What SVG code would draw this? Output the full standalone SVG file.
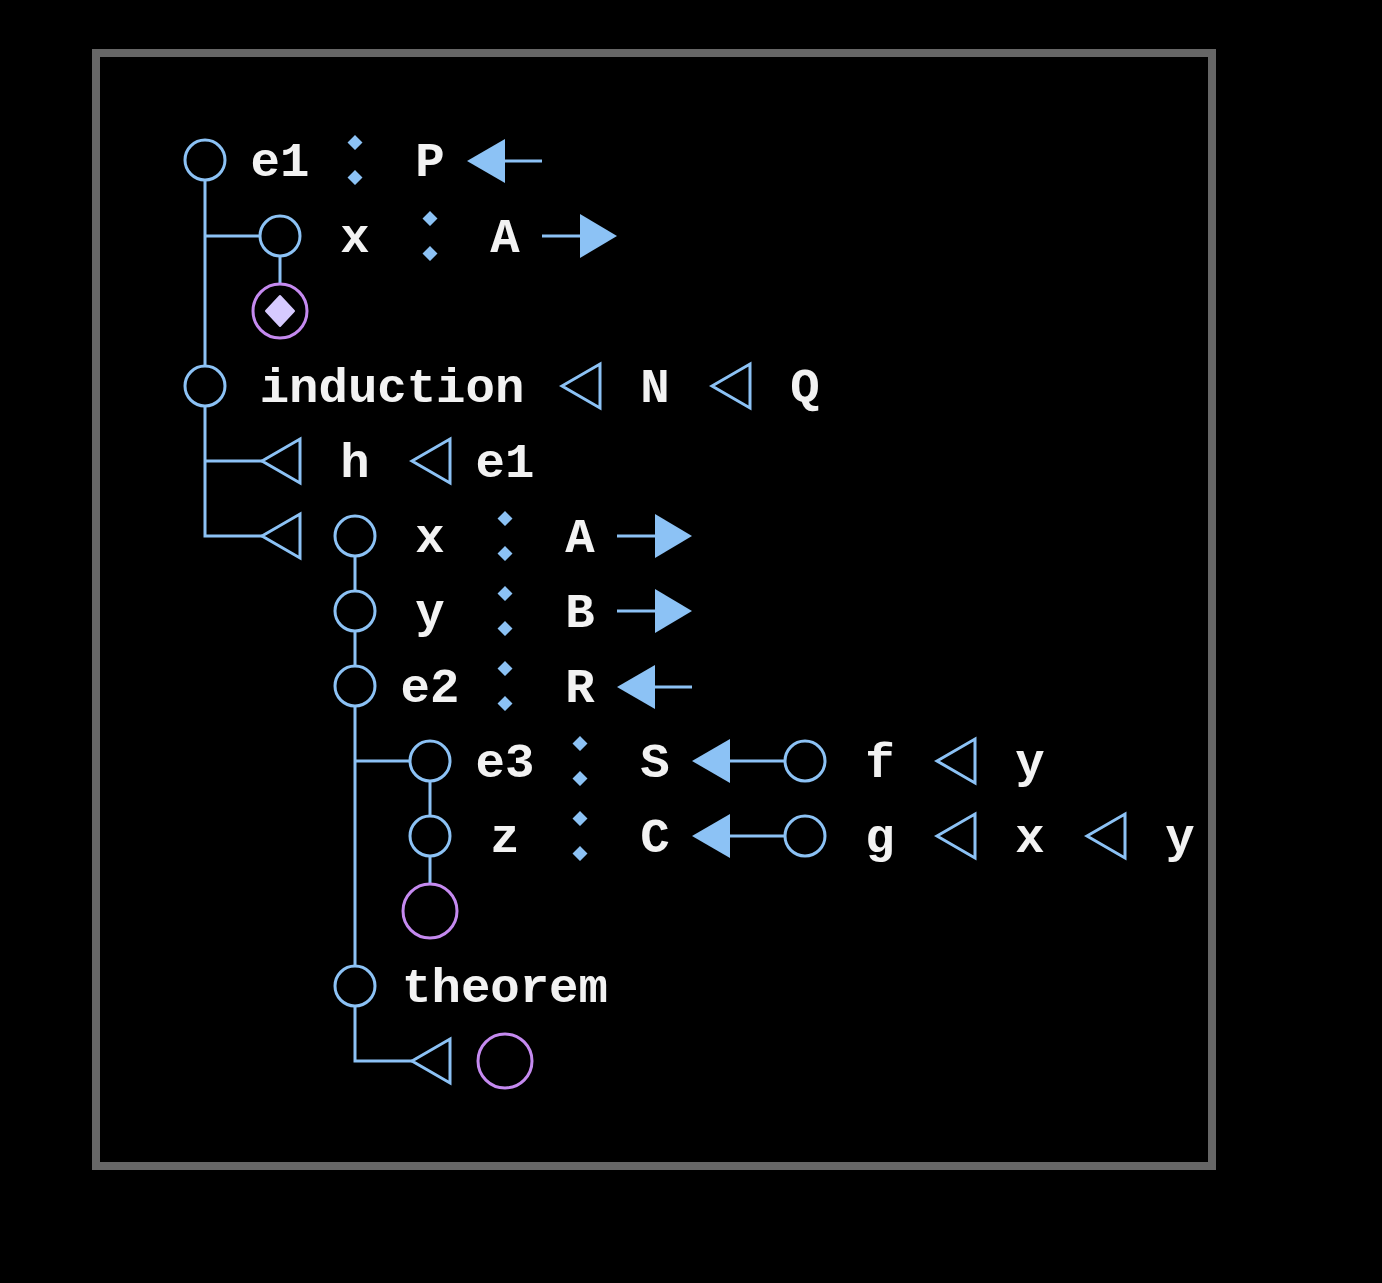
<svg xmlns="http://www.w3.org/2000/svg" width="1382" height="1283" viewBox="0 0 1382 1283">
<defs>
<style>
.t{font-family:"Liberation Mono","DejaVu Sans Mono",monospace;font-weight:bold;font-size:49px;fill:#f2f2f2;text-anchor:middle}
.c{fill:none;stroke:#8cc2f5;stroke-width:3}
.p{fill:none;stroke:#c58af0;stroke-width:3}
.l{fill:none;stroke:#8cc2f5;stroke-width:3}
.f{fill:#8cc2f5;stroke:none}
.h{fill:none;stroke:#8cc2f5;stroke-width:3;stroke-linejoin:miter}
</style>
<g id="colon"><path class="f" d="M0,-25 L7.5,-17.5 L0,-10 L-7.5,-17.5 Z M0,10 L7.5,17.5 L0,25 L-7.5,17.5 Z"/></g>
<path id="tri" class="h" d="M-18,0 L20,-22 L20,22 Z"/>
<g id="al"><path class="f" d="M-38,0 L0,-22 L0,22 Z"/><line class="l" x1="0" y1="0" x2="37" y2="0"/></g>
<g id="ar"><path class="f" d="M37,0 L0,-22 L0,22 Z"/><line class="l" x1="-38" y1="0" x2="0" y2="0"/></g>
</defs>
<rect width="1382" height="1283" fill="#000"/>
<rect id="frame" x="96" y="53" width="1116" height="1113" fill="none" stroke="#666" stroke-width="8"/>

<g id="connectors">
<path class="l" d="M205,180 V366 M205,406 V536 H262 M205,461 H262 M205,236 H260 M280,256 V283"/>
<path class="l" d="M355,556 V591 M355,631 V666 M355,706 V966 M355,761 H410 M355,1006 V1061 H412 M430,781 V816 M430,856 V883"/>
<path class="l" d="M730,761 H785 M730,836 H785"/>
</g>

<g id="row1">
<circle class="c" cx="205" cy="160" r="20"/>
<text class="t" x="280" y="176">e1</text>
<use href="#colon" x="355" y="160"/>
<text class="t" x="430" y="176">P</text>
<use href="#al" x="505" y="161"/>
</g>
<g id="row2">
<circle class="c" cx="280" cy="236" r="20"/>
<text class="t" x="355" y="252">x</text>
<use href="#colon" x="430" y="236"/>
<text class="t" x="505" y="252">A</text>
<use href="#ar" x="580" y="236"/>
</g>
<g id="row3">
<circle class="p" cx="280" cy="311" r="27"/>
<path d="M280,296 L294,311 L280,326 L266,311 Z" fill="#d6caff" stroke="#d6caff" stroke-width="2" stroke-linejoin="round"/>
</g>
<g id="row4">
<circle class="c" cx="205" cy="386" r="20"/>
<text class="t" x="392" y="402">induction</text>
<use href="#tri" x="580" y="386"/>
<text class="t" x="655" y="402">N</text>
<use href="#tri" x="730" y="386"/>
<text class="t" x="805" y="402">Q</text>
</g>
<g id="row5">
<use href="#tri" x="280" y="461"/>
<text class="t" x="355" y="477">h</text>
<use href="#tri" x="430" y="461"/>
<text class="t" x="505" y="477">e1</text>
</g>
<g id="row6">
<use href="#tri" x="280" y="536"/>
<circle class="c" cx="355" cy="536" r="20"/>
<text class="t" x="430" y="552">x</text>
<use href="#colon" x="505" y="536"/>
<text class="t" x="580" y="552">A</text>
<use href="#ar" x="655" y="536"/>
</g>
<g id="row7">
<circle class="c" cx="355" cy="611" r="20"/>
<text class="t" x="430" y="627">y</text>
<use href="#colon" x="505" y="611"/>
<text class="t" x="580" y="627">B</text>
<use href="#ar" x="655" y="611"/>
</g>
<g id="row8">
<circle class="c" cx="355" cy="686" r="20"/>
<text class="t" x="430" y="702">e2</text>
<use href="#colon" x="505" y="686"/>
<text class="t" x="580" y="702">R</text>
<use href="#al" x="655" y="687"/>
</g>
<g id="row9">
<circle class="c" cx="430" cy="761" r="20"/>
<text class="t" x="505" y="777">e3</text>
<use href="#colon" x="580" y="761"/>
<text class="t" x="655" y="777">S</text>
<path class="f" d="M692,761 L730,739 L730,783 Z"/>
<circle class="c" cx="805" cy="761" r="20"/>
<text class="t" x="880" y="777">f</text>
<use href="#tri" x="955" y="761"/>
<text class="t" x="1030" y="777">y</text>
</g>
<g id="row10">
<circle class="c" cx="430" cy="836" r="20"/>
<text class="t" x="505" y="852">z</text>
<use href="#colon" x="580" y="836"/>
<text class="t" x="655" y="852">C</text>
<path class="f" d="M692,836 L730,814 L730,858 Z"/>
<circle class="c" cx="805" cy="836" r="20"/>
<text class="t" x="880" y="852">g</text>
<use href="#tri" x="955" y="836"/>
<text class="t" x="1030" y="852">x</text>
<use href="#tri" x="1105" y="836"/>
<text class="t" x="1180" y="852">y</text>
</g>
<g id="row11">
<circle class="p" cx="430" cy="911" r="27"/>
</g>
<g id="row12">
<circle class="c" cx="355" cy="986" r="20"/>
<text class="t" x="505" y="1002">theorem</text>
</g>
<g id="row13">
<use href="#tri" x="430" y="1061"/>
<circle class="p" cx="505" cy="1061" r="27"/>
</g>
</svg>
